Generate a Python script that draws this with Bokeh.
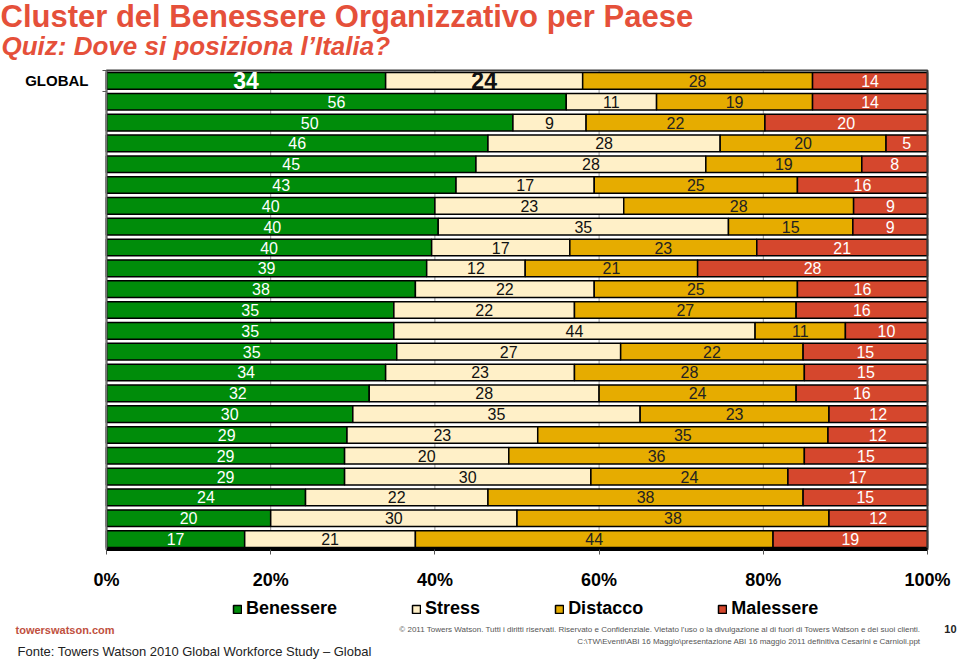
from bokeh.plotting import figure
from bokeh.models import Range1d, FixedTicker, Label, Legend, LegendItem, ColumnDataSource
from bokeh.core.properties import value
from bokeh.embed import file_html
from bokeh.resources import INLINE

# ---------------- data ----------------
row_labels = ["GLOBAL"] + [""] * 22
benessere = [34, 56, 50, 46, 45, 43, 40, 40, 40, 39, 38, 35, 35, 35, 34, 32, 30, 29, 29, 29, 24, 20, 17]
stress    = [24, 11, 9, 28, 28, 17, 23, 35, 17, 12, 22, 22, 44, 27, 23, 28, 35, 23, 20, 30, 22, 30, 21]
distacco  = [28, 19, 22, 20, 19, 25, 28, 15, 23, 21, 25, 27, 11, 22, 28, 24, 23, 35, 36, 24, 38, 38, 44]
malessere = [14, 14, 20, 5, 8, 16, 9, 9, 21, 28, 16, 16, 10, 15, 15, 16, 12, 12, 15, 17, 15, 12, 19]
series_names = ["Benessere", "Stress", "Distacco", "Malessere"]
x_ticks = [0, 20, 40, 60, 80, 100]
x_tick_labels = ["0%", "20%", "40%", "60%", "80%", "100%"]

title_text = "Cluster del Benessere Organizzativo per Paese"
subtitle_text = "Quiz: Dove si posiziona l\u2019Italia?"
source_text = "Fonte: Towers Watson 2010 Global Workforce Study \u2013 Global"
copyright_text = ("\u00a9 2011 Towers Watson. Tutti i diritti riservati. Riservato e Confidenziale. "
                  "Vietato l'uso o la divulgazione al di fuori di Towers Watson e dei suoi clienti.")
path_text = "C:\\TW\\Eventi\\ABI 16 Maggio\\presentazione ABI 16 maggio 2011 definitiva Cesarini e Carnioli.ppt"
site_text = "towerswatson.com"
page_text = "10"

# ---------------- style / layout ----------------
FONT = "Liberation Sans"
fills = ["#008C0A", "#FFF0C8", "#E6AC00", "#D5472D"]
label_colors = ["white", "#111111", "#222222", "white"]
TITLE_COLOR = "#E5503A"

W, H = 960, 659
PX_L, PX_R, PX_T, PX_B = 106, 927, 70, 549   # pixel box of the bar area

series = [benessere, stress, distacco, malessere]
n = len(benessere)
rows = list(range(n))
totals = [sum(s[i] for s in series) for i in range(n)]

# ranges chosen so the frame fills the canvas and the bars land in the bar box
xk = (PX_R - PX_L) / 100.0
x_start = 0 - PX_L / xk
x_end = 100 + (W - PX_R) / xk
yk = (PX_B - PX_T) / float(n)
y_top = -0.5 - PX_T / yk
y_bot = (n - 0.5) + (H - PX_B) / yk

p = figure(width=W, height=H, x_range=Range1d(x_start, x_end), y_range=Range1d(y_bot, y_top),
           output_backend="svg", toolbar_location=None,
           min_border_left=0, min_border_right=0, min_border_top=0, min_border_bottom=0)
p.title.visible = False
p.background_fill_color = "white"
p.border_fill_color = "white"
p.outline_line_color = None
p.xgrid.visible = False
p.ygrid.visible = False

# vertical grid lines limited to the bar area
p.segment(x0=x_ticks, x1=x_ticks, y0=[-0.5] * len(x_ticks), y1=[n - 0.5] * len(x_ticks),
          line_color="#9a9a9a", line_width=1, level="underlay")

renderers = []
lab_x, lab_y, lab_t, lab_c, lab_fs, lab_st = [], [], [], [], [], []
cum = [0.0] * n
for k, s in enumerate(series):
    left = [cum[i] for i in range(n)]
    right = [cum[i] + 100.0 * s[i] / totals[i] for i in range(n)]
    src = ColumnDataSource(dict(y=rows, left=left, right=right))
    r = p.hbar(y="y", left="left", right="right", height=0.8, source=src,
               fill_color=fills[k], line_color="black", line_width=1.5)
    renderers.append(r)
    for i in range(n):
        lab_x.append((left[i] + right[i]) / 2)
        lab_y.append(i)
        lab_t.append(str(s[i]))
        lab_c.append(label_colors[k])
        big = (i == 0 and k < 2)
        lab_fs.append("23px" if big else "16px")
        lab_st.append("bold" if big else "normal")
    cum = right

# frame border of the bar area
p.quad(left=[0], right=[100], top=[-0.5], bottom=[n - 0.5], fill_color=None,
       line_color="#3a3a3a", line_width=2)

tsrc = ColumnDataSource(dict(x=lab_x, y=lab_y, t=lab_t, c=lab_c, fs=lab_fs, st=lab_st))
p.text(x="x", y="y", text="t", text_color="c", text_font_size="fs", text_font_style="st",
       text_align="center", text_baseline="middle", text_font=value(FONT), source=tsrc)

# x axis (fixed at the bottom of the bars)
xa = p.xaxis[0]
xa.fixed_location = n - 0.5
xa.bounds = (0, 100)
xa.ticker = FixedTicker(ticks=x_ticks)
xa.major_label_overrides = {t: lab for t, lab in zip(x_ticks, x_tick_labels)}
xa.major_label_text_font = FONT
xa.major_label_text_font_size = "18px"
xa.major_label_text_font_style = "bold"
xa.major_label_text_color = "black"
xa.major_label_standoff = 15
xa.axis_line_color = "black"
xa.axis_line_width = 3
xa.major_tick_out = 5
xa.major_tick_in = 0
xa.major_tick_line_color = "#555555"
xa.minor_tick_line_color = None

# y axis (fixed at 0 %)
ya = p.yaxis[0]
ya.fixed_location = 0
ya.bounds = (-0.5, n - 0.5)
ya.ticker = FixedTicker(ticks=[0], minor_ticks=[-0.5, 0.5])
ya.major_label_overrides = {0: row_labels[0]}
ya.major_label_text_font = FONT
ya.major_label_text_font_size = "15px"
ya.major_label_text_font_style = "bold"
ya.major_label_text_color = "black"
ya.major_label_standoff = 14
ya.major_tick_out = 0
ya.major_tick_in = 0
ya.minor_tick_out = 4
ya.minor_tick_in = 0
ya.minor_tick_line_color = "#555555"
ya.axis_line_color = "#777777"

legend = Legend(items=[LegendItem(label=nm, renderers=[r]) for nm, r in zip(series_names, renderers)],
                orientation="horizontal", location=(232, H - 619),
                glyph_width=10, glyph_height=10, label_standoff=4, spacing=74,
                padding=0, margin=0, border_line_color=None, background_fill_alpha=0,
                label_text_font=FONT, label_text_font_size="18px", label_text_font_style="bold",
                label_text_color="black", label_height=20)
p.add_layout(legend)


def add_text(txt, px, py, size, color, style="normal", align="left", baseline="top"):
    p.add_layout(Label(x=px, y=H - py, x_units="screen", y_units="screen",
                       text=txt, text_font=FONT, text_font_size=size, text_color=color,
                       text_font_style=style, text_align=align, text_baseline=baseline))


add_text(title_text, 0, -2, "31px", TITLE_COLOR, "bold")
add_text(subtitle_text, 1, 30, "26px", TITLE_COLOR, "bold italic")
add_text(site_text, 15, 629, "11px", "#C0503E", "bold", baseline="middle")
add_text(copyright_text, 920, 629, "8px", "#555555", align="right", baseline="middle")
add_text(path_text, 920, 641, "8px", "#555555", align="right", baseline="middle")
add_text(page_text, 956, 628, "11px", "#222222", "bold", align="right", baseline="middle")
add_text(source_text, 17, 651, "13px", "#222222", baseline="middle")

open("out.html", "w").write(file_html(p, INLINE))
